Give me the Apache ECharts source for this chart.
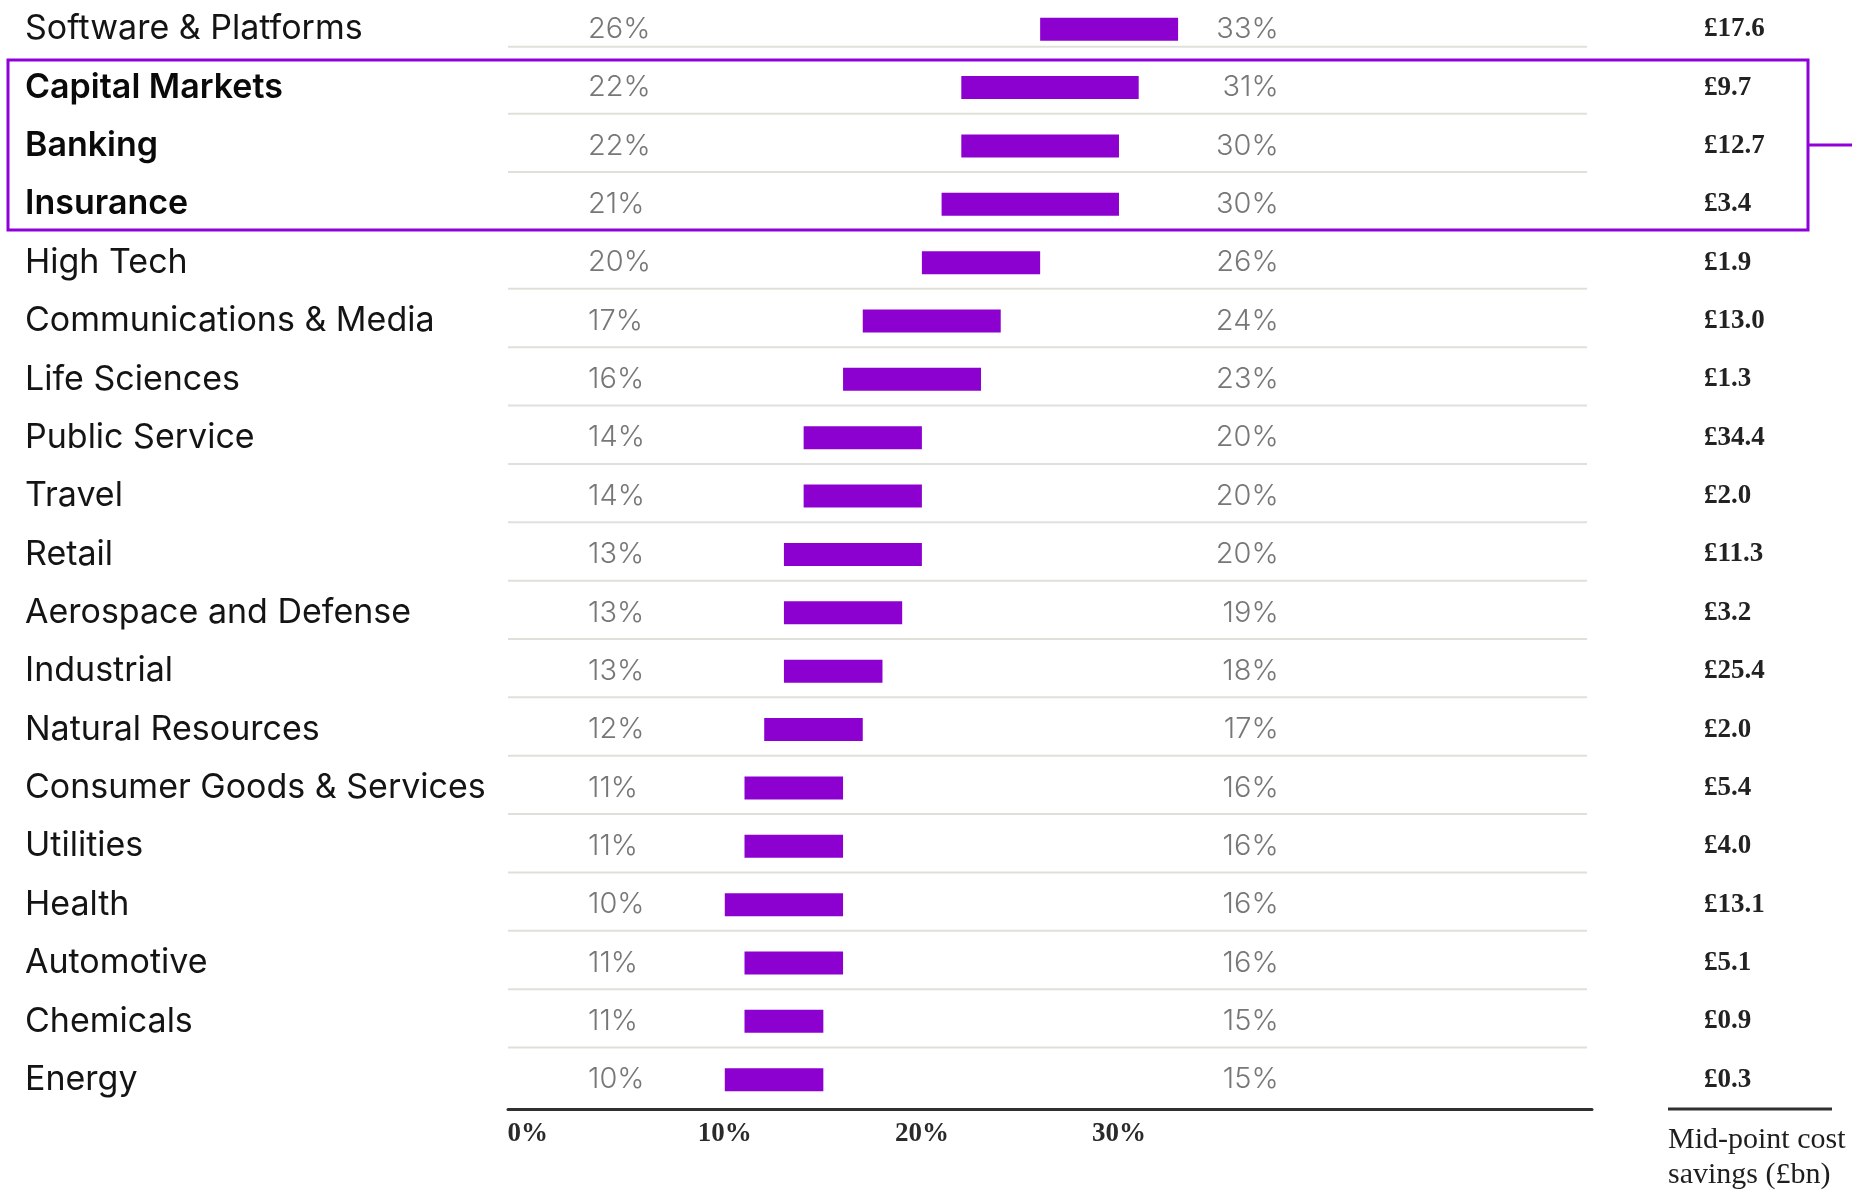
<!DOCTYPE html>
<html>
<head>
<meta charset="utf-8">
<title>Cost savings by industry</title>
<script src="https://cdn.jsdelivr.net/npm/echarts@6/dist/echarts.min.js"></script>
<style>
  html, body { margin: 0; padding: 0; background: #ffffff; }
  #chart { width: 1852px; height: 1193px; }
</style>
</head>
<body>
<div id="chart"></div>
<script>
// Industries, top to bottom
const categories = [
  'Software & Platforms', 'Capital Markets', 'Banking', 'Insurance', 'High Tech',
  'Communications & Media', 'Life Sciences', 'Public Service', 'Travel', 'Retail',
  'Aerospace and Defense', 'Industrial', 'Natural Resources', 'Consumer Goods & Services',
  'Utilities', 'Health', 'Automotive', 'Chemicals', 'Energy'
];
// Low and high end of the cost-saving range (% of cost base)
const lowPct  = [26, 22, 22, 21, 20, 17, 16, 14, 14, 13, 13, 13, 12, 11, 11, 10, 11, 11, 10];
const highPct = [33, 31, 30, 30, 26, 24, 23, 20, 20, 20, 19, 18, 17, 16, 16, 16, 16, 15, 15];
// Mid-point cost savings (£bn)
const savingsBn = [17.6, 9.7, 12.7, 3.4, 1.9, 13.0, 1.3, 34.4, 2.0, 11.3, 3.2, 25.4, 2.0, 5.4, 4.0, 13.1, 5.1, 0.9, 0.3];
// Industries called out with the frame
const highlighted = ['Capital Markets', 'Banking', 'Insurance'];
// Tick values on the percentage axis
const xTicks = [0, 10, 20, 30];
const footnote = 'Mid-point cost\nsavings (£bn)';

const PURPLE = '#8c00d0';
const FRAME = '#9000d8';
const SANS = 'Inter, "Noto Sans", sans-serif';
const SERIF = '"Liberation Serif", "DejaVu Serif", serif';

// Columns for the percentage texts, in axis units
const LOW_COL = 3.06;
const HIGH_COL = 38.1;

const chart = echarts.init(document.getElementById('chart'), null, { renderer: 'canvas' });

const option = {
  animation: false,
  backgroundColor: '#ffffff',
  grid: { left: 508, right: 260, top: -4.6, height: 1113.5, containLabel: false },
  xAxis: {
    type: 'value',
    min: -1,
    max: 54,
    splitLine: { show: false },
    axisTick: { show: false },
    axisLine: { show: true, lineStyle: { color: '#303030', width: 3 } },
    axisLabel: {
      customValues: xTicks,
      formatter: v => v + '%',
      fontFamily: SERIF,
      fontWeight: 'bold',
      fontSize: 27,
      color: '#2a2a2a',
      margin: 12
    }
  },
  yAxis: [
    {
      type: 'category',
      data: categories,
      inverse: true,
      axisLine: { show: false },
      axisTick: { show: false },
      splitLine: { show: false },
      axisLabel: {
        interval: 0,
        align: 'left',
        margin: 483,
        formatter: v => (highlighted.includes(v) ? '{b|' + v + '}' : '{n|' + v + '}'),
        rich: {
          n: { fontFamily: SANS, fontSize: 34, fontWeight: 400, color: '#141414' },
          b: { fontFamily: SANS, fontSize: 34, fontWeight: 600, color: '#0a0a0a' }
        }
      }
    },
    {
      type: 'category',
      data: categories,
      inverse: true,
      position: 'right',
      axisLine: { show: false },
      axisTick: { show: false },
      splitLine: { show: false },
      axisLabel: {
        interval: 0,
        align: 'left',
        margin: 112,
        formatter: (v, i) => '£' + savingsBn[i].toFixed(1),
        fontFamily: SERIF,
        fontWeight: 'bold',
        fontSize: 27,
        color: '#222222',
        padding: [6, 0, 0, 0]
      }
    }
  ],
  series: [
    {
      name: 'base',
      type: 'bar',
      stack: 'range',
      barWidth: 23,
      itemStyle: { color: 'transparent' },
      silent: true,
      data: lowPct
    },
    {
      name: 'range',
      type: 'bar',
      stack: 'range',
      barWidth: 23,
      itemStyle: { color: PURPLE },
      data: highPct.map((h, i) => h - lowPct[i])
    },
    {
      name: 'low',
      type: 'scatter',
      symbolSize: 0,
      silent: true,
      data: lowPct.map((v, i) => [LOW_COL, i]),
      label: {
        show: true,
        position: 'right',
        distance: 0,
        formatter: p => lowPct[p.dataIndex] + '%',
        fontFamily: SANS,
        fontWeight: 300,
        fontSize: 29,
        color: '#555555'
      }
    },
    {
      name: 'high',
      type: 'scatter',
      symbolSize: 0,
      silent: true,
      data: highPct.map((v, i) => [HIGH_COL, i]),
      label: {
        show: true,
        position: 'left',
        distance: 0,
        formatter: p => highPct[p.dataIndex] + '%',
        fontFamily: SANS,
        fontWeight: 300,
        fontSize: 29,
        color: '#555555'
      }
    }
  ]
};

chart.setOption(option);

// Row rules, highlight frame and footnote, placed from the axis scales
const yOf = name => chart.convertToPixel({ yAxisIndex: 0 }, name);
const xOf = v => chart.convertToPixel({ xAxisIndex: 0 }, v);
const step = yOf(categories[1]) - yOf(categories[0]);
const ruleLeft = xOf(-1);
const ruleRight = xOf(54) - 5;
const axisY = yOf(categories[categories.length - 1]) + step / 2;

const graphics = [];
const firstHi = categories.indexOf(highlighted[0]);
const lastHi = categories.indexOf(highlighted[highlighted.length - 1]);
for (let i = 0; i < categories.length - 1; i++) {
  let y;
  if (i === 0) y = yOf(categories[0]) + step * 0.3;
  else if (i === lastHi) continue;
  else y = yOf(categories[i]) + step / 2 - 3;
  graphics.push({
    type: 'line', silent: true, z: 0,
    shape: { x1: ruleLeft, y1: y, x2: ruleRight, y2: y },
    style: { stroke: '#e0e0db', lineWidth: 2 }
  });
}

const frameTop = yOf(categories[firstHi]) - step * 0.47;
const frameBottom = yOf(categories[lastHi]) + step * 0.44;
const frameLeft = 8, frameRight = 1808;
graphics.push({
  type: 'rect', silent: true, z: 10,
  shape: { x: frameLeft, y: frameTop, width: frameRight - frameLeft, height: frameBottom - frameTop },
  style: { fill: 'none', stroke: FRAME, lineWidth: 3 }
});
const midY = (frameTop + frameBottom) / 2;
graphics.push({
  type: 'line', silent: true, z: 10,
  shape: { x1: frameRight, y1: midY, x2: 1852, y2: midY },
  style: { stroke: FRAME, lineWidth: 3 }
});

// Rule under the savings column and its caption
graphics.push({
  type: 'line', silent: true,
  shape: { x1: 1668, y1: axisY, x2: 1832, y2: axisY },
  style: { stroke: '#303030', lineWidth: 3 }
});
graphics.push({
  type: 'text', silent: true,
  x: 1668, y: axisY + 14,
  style: {
    text: footnote,
    fontFamily: SERIF,
    fontSize: 30,
    lineHeight: 35,
    fill: '#1e1e1e',
    textAlign: 'left',
    textVerticalAlign: 'top'
  }
});

chart.setOption({ graphic: graphics });
</script>
</body>
</html>
